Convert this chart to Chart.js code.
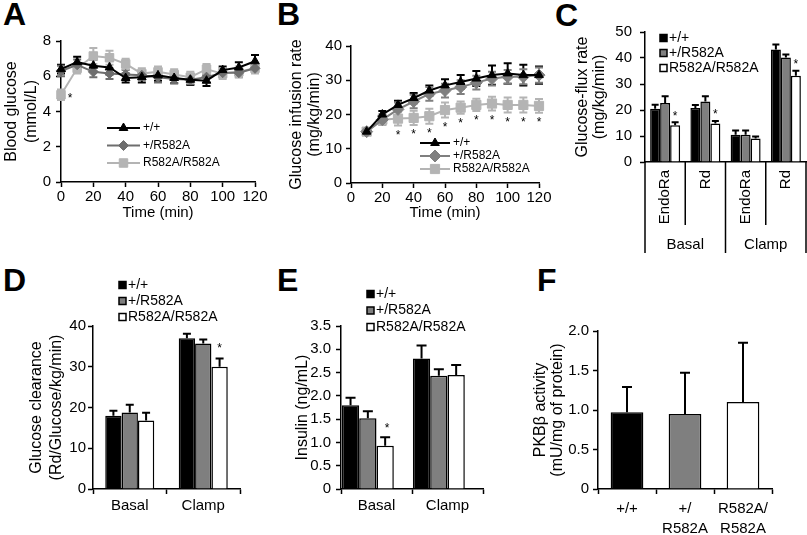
<!DOCTYPE html>
<html>
<head>
<meta charset="utf-8">
<script src="https://cdn.jsdelivr.net/npm/chart.js@4.4.1/dist/chart.umd.min.js"></script>
<style>
  body { margin: 0; background: #fff; width: 807px; height: 535px; position: relative; overflow: hidden;
         font-family: "Liberation Sans", Arial, sans-serif; }
  canvas { position: absolute; left: 0; top: 0; }
  .tag { position: absolute; font-weight: bold; font-size: 32px; line-height: 1; }
</style>
</head>
<body>
<div class="tag" style="left:3px;top:-2px">A</div>
<div class="tag" style="left:277px;top:-2px">B</div>
<div class="tag" style="left:555px;top:-1px">C</div>
<div class="tag" style="left:3px;top:264px">D</div>
<div class="tag" style="left:277px;top:264px">E</div>
<div class="tag" style="left:537px;top:264px">F</div>
<canvas id="cA" width="807" height="535"></canvas>
<canvas id="cB" width="807" height="535"></canvas>
<canvas id="cC" width="807" height="535"></canvas>
<canvas id="cD" width="807" height="535"></canvas>
<canvas id="cE" width="807" height="535"></canvas>
<canvas id="cF" width="807" height="535"></canvas>
<script>
const FONT = '"Liberation Sans", Arial, sans-serif';

// ---- data ----
const genotypes = ['+/+', '+/R582A', 'R582A/R582A'];

// A: blood glucose during clamp
const timeA = [0, 10, 20, 30, 40, 50, 60, 70, 80, 90, 100, 110, 120];
const glucoseWT = [6.4, 6.8, 6.6, 6.5, 5.9, 5.95, 6.05, 5.9, 5.8, 5.75, 6.35, 6.5, 6.85];
const glucoseWTSem = [0.25, 0.3, 0.35, 0.4, 0.25, 0.3, 0.3, 0.3, 0.3, 0.3, 0.2, 0.3, 0.35];
const glucoseHet = [6.3, 6.65, 6.25, 6.15, 6.1, 6.05, 5.95, 5.85, 5.8, 5.95, 6.2, 6.2, 6.45];
const glucoseHetSem = [0.3, 0.3, 0.3, 0.3, 0.25, 0.25, 0.3, 0.25, 0.25, 0.3, 0.25, 0.25, 0.25];
const glucoseHom = [4.95, 6.45, 7.15, 7.05, 6.7, 6.15, 6.25, 6.1, 5.95, 6.4, 6.15, 6.25, 6.45];
const glucoseHomSem = [0.3, 0.3, 0.45, 0.4, 0.3, 0.3, 0.3, 0.3, 0.3, 0.3, 0.3, 0.3, 0.3];
const glucoseStars = [0];

// B: glucose infusion rate
const timeB = [10, 20, 30, 40, 50, 60, 70, 80, 90, 100, 110, 120];
const girWT = [15, 20, 22.8, 24.8, 27, 28.5, 29.5, 30.5, 31.5, 32, 31.5, 31.5];
const girWTSem = [1, 1, 1.2, 1.5, 1.5, 1.8, 2, 2.2, 2.8, 3, 3, 2.5];
const girHet = [15, 18.5, 21.5, 23.8, 26, 27, 28, 29.3, 30.5, 31, 31, 31.5];
const girHetSem = [1, 1.5, 2, 2, 2, 2, 2, 2, 2, 2, 2.2, 2.2];
const girHom = [15, 18.5, 18.8, 19, 19.5, 21.3, 22, 22.8, 23.2, 22.8, 22.8, 22.5];
const girHomSem = [0.8, 1.5, 2, 2.1, 2.2, 2.2, 1.8, 1.8, 2, 2.2, 2.2, 2];
const girStars = [2, 3, 4, 5, 6, 7, 8, 9, 10, 11];

// C: glucose flux
const fluxLabels = ['EndoRa', 'Rd', 'EndoRa', 'Rd'];
const fluxGroups = ['Basal', 'Clamp'];
const fluxWT = [20.5, 20.8, 10.5, 43.3];
const fluxWTSem = [1.5, 1.1, 1.6, 1.9];
const fluxHet = [22.7, 23.3, 10.5, 40.2];
const fluxHetSem = [2.6, 2, 1.6, 1.1];
const fluxHom = [14.1, 14.8, 9, 33.2];
const fluxHomSem = [1.2, 1, 0.8, 1.9];
const fluxStars = [0, 1, 3];

// D: glucose clearance
const conditions = ['Basal', 'Clamp'];
const clearWT = [18, 37];
const clearWTSem = [1.2, 1.1];
const clearHet = [18.8, 35.7];
const clearHetSem = [1.9, 1];
const clearHom = [16.8, 30];
const clearHomSem = [1.9, 2];
const clearStars = [1];

// E: insulin
const insulinWT = [1.8, 2.8];
const insulinWTSem = [0.16, 0.28];
const insulinHet = [1.52, 2.43];
const insulinHetSem = [0.15, 0.14];
const insulinHom = [0.93, 2.45];
const insulinHomSem = [0.18, 0.21];
const insulinStars = [0];

// F: PKBbeta activity
const pkbLabels = ['+/+', ['+/', 'R582A'], ['R582A/', 'R582A']];
const pkbActivity = [0.97, 0.95, 1.1];
const pkbSem = [0.32, 0.52, 0.75];

const BLACK = '#000000', GREY = '#7f7f7f', LIGHT = '#b4b4b4', WHITE = '#ffffff';

// ---- plugins ----
function drawErrors(chart, o) {
  const ctx = chart.ctx, ys = chart.scales.y;
  chart.data.datasets.forEach((ds, i) => {
    if (!ds.errors) return;
    const meta = chart.getDatasetMeta(i);
    ctx.save();
    ctx.strokeStyle = o.color || ds.borderColor;
    ctx.lineWidth = o.width || 2;
    meta.data.forEach((el, j) => {
      const raw = ds.data[j];
      const v = raw !== null && typeof raw === 'object' ? raw.y : raw;
      const e = ds.errors[j];
      if (v == null || e == null) return;
      const hi = ys.getPixelForValue(v + e);
      const lo = ys.getPixelForValue(o.both ? v - e : v);
      ctx.beginPath();
      ctx.moveTo(el.x, lo); ctx.lineTo(el.x, hi);
      ctx.moveTo(el.x - o.cap, hi); ctx.lineTo(el.x + o.cap, hi);
      if (o.both) { ctx.moveTo(el.x - o.cap, lo); ctx.lineTo(el.x + o.cap, lo); }
      ctx.stroke();
    });
    ctx.restore();
  });
}

const errorBars = {
  id: 'errorBars',
  beforeDatasetsDraw(chart, args, o) { if (o.cap && o.under) drawErrors(chart, o); },
  afterDatasetsDraw(chart, args, o) { if (o.cap && !o.under) drawErrors(chart, o); }
};

const stars = {
  id: 'stars',
  afterDatasetsDraw(chart, args, o) {
    if (!o.mode) return;
    const ctx = chart.ctx, ys = chart.scales.y;
    ctx.save();
    ctx.fillStyle = '#000';
    ctx.font = (o.size || 12) + 'px ' + FONT;
    ctx.textAlign = 'center';
    ctx.textBaseline = 'middle';
    chart.data.datasets.forEach((ds, i) => {
      if (!ds.stars) return;
      const meta = chart.getDatasetMeta(i);
      ds.stars.forEach(j => {
        const el = meta.data[j];
        const raw = ds.data[j];
        const v = typeof raw === 'object' ? raw.y : raw;
        const e = ds.errors ? ds.errors[j] : 0;
        let y;
        if (o.mode === 'above') y = ys.getPixelForValue(v + e) - o.dy;
        else if (o.mode === 'below') y = ys.getPixelForValue(v - e) + o.dy;
        else y = el.y + o.dy;
        ctx.fillText('*', el.x + (o.dx || 0), y);
      });
    });
    ctx.restore();
  }
};

const panelLegend = {
  id: 'panelLegend',
  afterDraw(chart, args, o) {
    if (!o.kind) return;
    const ctx = chart.ctx;
    ctx.save();
    ctx.font = o.size + 'px ' + FONT;
    ctx.textBaseline = 'middle';
    ctx.textAlign = 'left';
    chart.data.datasets.forEach((ds, i) => {
      if (!ds.label) return;
      const y = o.y + i * o.gap;
      if (o.kind === 'line') {
        ctx.strokeStyle = ds.borderColor;
        ctx.lineWidth = 2;
        ctx.beginPath(); ctx.moveTo(o.x, y); ctx.lineTo(o.x + o.len, y); ctx.stroke();
        ctx.fillStyle = ds.pointBackgroundColor;
        ctx.lineWidth = 1;
        Chart.helpers.drawPoint(ctx, { pointStyle: ds.pointStyle, radius: ds.pointRadius, borderWidth: 1, rotation: 0 }, o.x + o.len / 2, y);
        ctx.fillStyle = '#000';
        ctx.fillText(ds.label, o.x + o.len + 3, y);
      } else {
        ctx.fillStyle = ds.backgroundColor;
        ctx.strokeStyle = '#000';
        ctx.lineWidth = 1.5;
        ctx.fillRect(o.x, y - o.box / 2, o.box, o.box);
        ctx.strokeRect(o.x, y - o.box / 2, o.box, o.box);
        ctx.fillStyle = '#000';
        ctx.fillText(ds.label, o.x + o.box + 2, y);
      }
    });
    ctx.restore();
  }
};

// category labels written upright under the axis, with group boxes (panel C)
const groupedAxis = {
  id: 'groupedAxis',
  afterDraw(chart, args, o) {
    if (!o.groups) return;
    const ctx = chart.ctx, xs = chart.scales.x, base = chart.chartArea.bottom;
    const n = chart.data.labels.length;
    const half = (xs.getPixelForValue(1) - xs.getPixelForValue(0)) / 2;
    ctx.save();
    ctx.strokeStyle = '#000';
    ctx.lineWidth = 1.5;
    for (let i = 0; i <= n; i++) {
      const px = i < n ? xs.getPixelForValue(i) - half : xs.getPixelForValue(n - 1) + half;
      const end = i % o.groupSize === 0 ? o.outer : o.inner;
      ctx.beginPath(); ctx.moveTo(px, base); ctx.lineTo(px, base + end); ctx.stroke();
    }
    ctx.fillStyle = '#000';
    ctx.font = o.size + 'px ' + FONT;
    ctx.textBaseline = 'middle';
    chart.data.labels.forEach((lab, i) => {
      ctx.save();
      ctx.translate(xs.getPixelForValue(i), base + o.gap);
      ctx.rotate(-Math.PI / 2);
      ctx.textAlign = 'right';
      ctx.fillText(lab, 0, 0);
      ctx.restore();
    });
    ctx.textAlign = 'center';
    o.groups.forEach((g, k) => {
      const a = xs.getPixelForValue(k * o.groupSize) - half;
      const b = xs.getPixelForValue(k * o.groupSize + o.groupSize - 1) + half;
      ctx.fillText(g, (a + b) / 2, base + o.groupY);
    });
    ctx.restore();
  }
};

Chart.register(errorBars, stars, panelLegend, groupedAxis);
Chart.defaults.font.family = FONT;
Chart.defaults.color = '#000';
Chart.defaults.animation = false;
Chart.defaults.events = [];
Chart.defaults.plugins.legend.display = false;
Chart.defaults.plugins.tooltip.enabled = false;

// ---- helpers ----
const axisGrid = { drawOnChartArea: false, tickLength: 5, tickColor: '#000', tickWidth: 1.5 };
const axisBorder = { color: '#000', width: 1.5 };

function fix(size) {
  return function (scale) {
    if (scale.isHorizontal()) scale.height = size; else scale.width = size;
  };
}

function pad(a) {
  return { left: a.L - a.yw, top: a.T, right: 807 - a.R, bottom: 535 - a.B - a.xh };
}

function yScale(min, max, step, title, a, tickPad, fmt) {
  return {
    min: min, max: max,
    ticks: { stepSize: step, color: '#000', font: { size: 15 }, padding: tickPad, callback: fmt },
    grid: axisGrid, border: axisBorder,
    title: { display: true, text: title, color: '#000', font: { size: 16, lineHeight: a.lh + 'px' }, padding: 0 },
    afterFit: fix(a.yw)
  };
}

function timeScale(a) {
  return {
    type: 'linear', min: 0, max: 120,
    ticks: { stepSize: 20, color: '#000', font: { size: 15 }, padding: 1 },
    grid: axisGrid, border: axisBorder,
    title: { display: true, text: 'Time (min)', color: '#000', font: { size: 15, lineHeight: '18px' }, padding: 0 },
    afterFit: fix(a.xh)
  };
}

function series(label, xs, ys, sem, color, style, radius) {
  return {
    label: label, data: xs.map((x, i) => ({ x: x, y: ys[i] })), errors: sem,
    borderColor: color, backgroundColor: color, pointBackgroundColor: color, pointBorderColor: color,
    pointStyle: style, pointRadius: radius, pointBorderWidth: 1, borderWidth: 2, clip: false
  };
}

function bars(label, values, sem, color) {
  return { label: label, data: values, errors: sem, backgroundColor: color, borderColor: '#000', borderWidth: 1.5 };
}

const oneDecimal = v => (v === 0 ? '0' : v.toFixed(1));

// ---- A ----
const areaA = { L: 61, R: 255, T: 41, B: 182, yw: 59, xh: 40, lh: 20 };
const dsA = [
  series(genotypes[0], timeA, glucoseWT, glucoseWTSem, BLACK, 'triangle', 5),
  series(genotypes[1], timeA, glucoseHet, glucoseHetSem, '#6e6e6e', 'rectRot', 5),
  series(genotypes[2], timeA, glucoseHom, glucoseHomSem, LIGHT, 'rect', 6)
];
dsA[2].stars = glucoseStars;
new Chart(document.getElementById('cA'), {
  type: 'line',
  data: { datasets: dsA },
  options: {
    responsive: false,
    layout: { padding: pad(areaA) },
    scales: { x: timeScale(areaA), y: yScale(0, 8, 2, ['Blood glucose', '(mmol/L)'], areaA, 5) },
    plugins: {
      errorBars: { cap: 4, both: true, under: true, width: 2 },
      stars: { mode: 'point', dx: 9, dy: 4, size: 12 },
      panelLegend: { kind: 'line', x: 107, len: 33, y: 128, gap: 17.5, size: 12 }
    }
  }
});

// ---- B ----
const areaB = { L: 351, R: 539, T: 46, B: 183, yw: 63, xh: 39, lh: 18 };
const dsB = [
  series(genotypes[0], timeB, girWT, girWTSem, BLACK, 'triangle', 5),
  series(genotypes[1], timeB, girHet, girHetSem, GREY, 'rectRot', 6),
  series(genotypes[2], timeB, girHom, girHomSem, LIGHT, 'rect', 6.5)
];
dsB[2].stars = girStars;
new Chart(document.getElementById('cB'), {
  type: 'line',
  data: { datasets: dsB },
  options: {
    responsive: false,
    layout: { padding: pad(areaB) },
    scales: { x: timeScale(areaB), y: yScale(0, 40, 10, ['Glucose infusion rate', '(mg/kg/min)'], areaB, 4) },
    plugins: {
      errorBars: { cap: 4, both: true, under: true, width: 2 },
      stars: { mode: 'below', dx: 0, dy: 10, size: 12 },
      panelLegend: { kind: 'line', x: 420, len: 30, y: 143, gap: 13, size: 12 }
    }
  }
});

// ---- C ----
const areaC = { L: 645, R: 806, T: 32, B: 162, yw: 70.5, xh: 0, lh: 17 };
const dsC = [
  bars(genotypes[0], fluxWT, fluxWTSem, BLACK),
  bars(genotypes[1], fluxHet, fluxHetSem, GREY),
  bars(genotypes[2], fluxHom, fluxHomSem, WHITE)
];
dsC[2].stars = fluxStars;
new Chart(document.getElementById('cC'), {
  type: 'bar',
  data: { labels: fluxLabels, datasets: dsC },
  options: {
    responsive: false,
    layout: { padding: pad(areaC) },
    datasets: { bar: { categoryPercentage: 0.745, barPercentage: 1 } },
    scales: {
      x: { ticks: { display: false }, grid: { display: false }, border: axisBorder, afterFit: fix(0) },
      y: yScale(0, 50, 10, ['Glucose-flux rate', '(mg/kg/min)'], areaC, 8)
    },
    plugins: {
      errorBars: { cap: 3.5, color: '#000', width: 2 },
      stars: { mode: 'above', dx: 0, dy: 6, size: 12 },
      panelLegend: { kind: 'bar', x: 660, y: 38, gap: 15, box: 7, size: 14 },
      groupedAxis: { groups: fluxGroups, groupSize: 2, gap: 8, inner: 63, outer: 91, groupY: 83, size: 15 }
    }
  }
});

// ---- D ----
const areaD = { L: 93, R: 240, T: 326, B: 489, yw: 66, xh: 30, lh: 20 };
const dsD = [
  bars(genotypes[0], clearWT, clearWTSem, BLACK),
  bars(genotypes[1], clearHet, clearHetSem, GREY),
  bars(genotypes[2], clearHom, clearHomSem, WHITE)
];
dsD[2].stars = clearStars;
new Chart(document.getElementById('cD'), {
  type: 'bar',
  data: { labels: conditions, datasets: dsD },
  options: {
    responsive: false,
    layout: { padding: pad(areaD) },
    datasets: { bar: { categoryPercentage: 0.667, barPercentage: 1 } },
    scales: {
      x: { ticks: { color: '#000', font: { size: 15 }, padding: 3 },
           grid: Object.assign({ offset: true }, axisGrid), border: axisBorder, afterFit: fix(areaD.xh) },
      y: yScale(0, 40, 10, ['Glucose clearance', '(Rd/Glucose/kg/min)'], areaD, 2)
    },
    plugins: {
      errorBars: { cap: 4, color: '#000', width: 2 },
      stars: { mode: 'above', dx: 0, dy: 9.5, size: 12 },
      panelLegend: { kind: 'bar', x: 119, y: 285, gap: 16, box: 7, size: 14 }
    }
  }
});

// ---- E ----
const areaE = { L: 341, R: 483, T: 326, B: 489, yw: 47, xh: 30, lh: 18 };
const dsE = [
  bars(genotypes[0], insulinWT, insulinWTSem, BLACK),
  bars(genotypes[1], insulinHet, insulinHetSem, GREY),
  bars(genotypes[2], insulinHom, insulinHomSem, WHITE),
  { label: '', data: [null, null] }
];
dsE[2].stars = insulinStars;
new Chart(document.getElementById('cE'), {
  type: 'bar',
  data: { labels: conditions, datasets: dsE },
  options: {
    responsive: false,
    layout: { padding: pad(areaE) },
    datasets: { bar: { categoryPercentage: 0.975, barPercentage: 1 } },
    scales: {
      x: { ticks: { color: '#000', font: { size: 15 }, padding: 3 },
           grid: Object.assign({ offset: true }, axisGrid), border: axisBorder, afterFit: fix(areaE.xh) },
      y: yScale(0, 3.5, 0.5, 'Insulin (ng/mL)', areaE, 5, oneDecimal)
    },
    plugins: {
      errorBars: { cap: 5, color: '#000', width: 2 },
      stars: { mode: 'above', dx: 2, dy: 8.5, size: 12 },
      panelLegend: { kind: 'bar', x: 367, y: 294, gap: 16.5, box: 7, size: 14 }
    }
  }
});

// ---- F ----
const areaF = { L: 598, R: 772, T: 331, B: 489, yw: 65.5, xh: 46, lh: 17 };
new Chart(document.getElementById('cF'), {
  type: 'bar',
  data: {
    labels: pkbLabels,
    datasets: [{ data: pkbActivity, errors: pkbSem, backgroundColor: [BLACK, GREY, WHITE], borderColor: '#000', borderWidth: 1.5 }]
  },
  options: {
    responsive: false,
    layout: { padding: pad(areaF) },
    datasets: { bar: { categoryPercentage: 0.564, barPercentage: 1 } },
    scales: {
      x: { ticks: { color: '#000', font: { size: 15, lineHeight: '20px' }, padding: 5, maxRotation: 0 },
           grid: Object.assign({ offset: true }, axisGrid), border: axisBorder, afterFit: fix(areaF.xh) },
      y: yScale(0, 2, 0.5, ['PKB\u03b2 activity', '(mU/mg of protein)'], areaF, 4, oneDecimal)
    },
    plugins: {
      errorBars: { cap: 5, color: '#000', width: 2 }
    }
  }
});
</script>
</body>
</html>
